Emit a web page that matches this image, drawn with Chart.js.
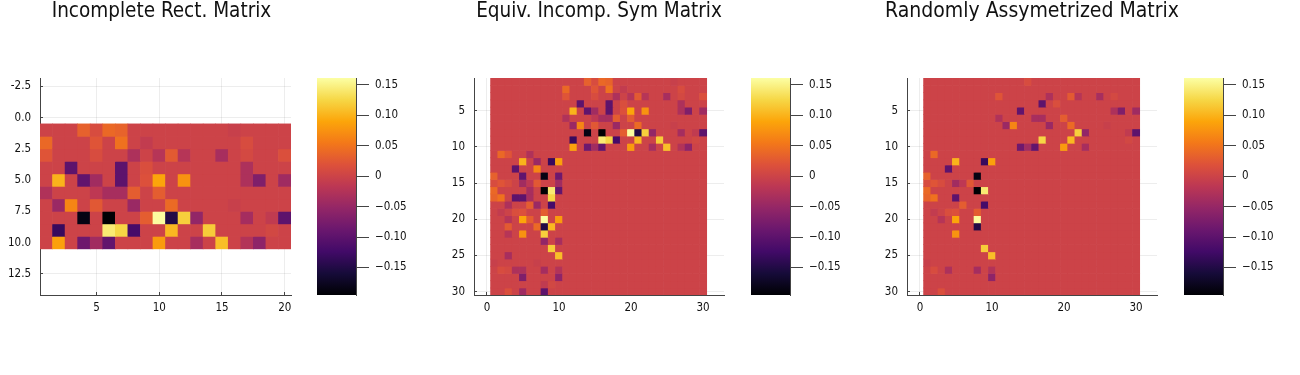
<!DOCTYPE html>
<html>
<head>
<meta charset="utf-8">
<title>Matrix heatmaps</title>
<script src="https://cdn.jsdelivr.net/npm/chart.js@4/dist/chart.umd.js"></script>
<style>
    html, body { margin: 0; padding: 0; background: #fff; }
    body { position: relative; width: 1300px; height: 375px; overflow: hidden; }
    canvas { position: absolute; top: 0; }
</style>
</head>
<body>
<canvas id="rectPlot" width="323" height="375" style="left:0"></canvas>
<canvas id="rectBar" width="100" height="375" style="left:317px"></canvas>
<canvas id="symPlot" width="318" height="375" style="left:440px"></canvas>
<canvas id="symBar" width="100" height="375" style="left:751px"></canvas>
<canvas id="asymPlot" width="318" height="375" style="left:873px"></canvas>
<canvas id="asymBar" width="100" height="375" style="left:1184px"></canvas>
<script>
// the 10x20 matrix
const rectValues = [
    [0, 0, 0, .033, .012, .04, .035, 0, 0, 0, 0, 0, 0, 0, 0, -.005, 0, 0, 0, 0],
    [.04, 0, 0, 0, .022, 0, .048, 0, -.01, 0, 0, 0, 0, 0, 0, 0, .012, 0, 0, 0],
    [.022, 0, 0, 0, .012, 0, 0, -.03, 0, -.022, .027, -.022, 0, 0, -.035, 0, .008, 0, 0, .016],
    [0, 0, -.1, 0, 0, 0, -.1, 0, .015, 0, 0, 0, 0, 0, 0, 0, -.03, 0, 0, 0],
    [0, .1, 0, -.096, -.04, 0, -.1, 0, .018, .09, 0, .076, 0, 0, 0, 0, -.03, -.07, 0, -.042],
    [-.027, 0, 0, 0, -.015, -.035, -.035, .03, 0, .03, 0, 0, 0, 0, 0, 0, 0, 0, 0, 0],
    [0, -.046, .065, 0, .025, 0, 0, -.046, 0, 0, .042, 0, 0, 0, 0, -.005, 0, 0, 0, 0],
    [0, 0, 0, -.185, 0, -.196, 0, 0, .03, .16, -.15, .12, -.053, 0, 0, 0, -.037, 0, -.012, -.1],
    [0, -.132, 0, 0, 0, .143, .125, -.12, 0, 0, .104, 0, 0, .118, 0, 0, 0, 0, .006, 0],
    [0, .086, 0, -.085, -.04, -.095, 0, 0, 0, .082, 0, 0, -.035, 0, .108, 0, -.025, -.057, 0, 0]
];

// [row, col] of rectValues that survive in each block of the third panel
const asymUpperKept = [
    [1, 5], [3, 1], [3, 8], [3, 11], [3, 12], [3, 15], [3, 17], [4, 7], [4, 9],
    [5, 4], [5, 17], [5, 18], [5, 20], [6, 1], [6, 6], [6, 7], [6, 10],
    [7, 2], [7, 3], [7, 8], [7, 11], [7, 16], [8, 12], [8, 13], [8, 19], [8, 20],
    [9, 7], [9, 11], [9, 19], [10, 4], [10, 5], [10, 6], [10, 10], [10, 13]
];
const asymLowerKept = [
    [2, 1], [5, 2], [9, 2], [10, 2], [4, 3], [1, 4], [8, 4], [1, 5], [2, 5], [3, 5],
    [5, 5], [6, 5], [7, 5], [1, 6], [8, 6], [9, 6], [1, 7], [2, 7], [5, 7], [6, 8],
    [9, 8], [2, 9], [3, 9], [4, 9], [5, 9], [8, 9], [3, 10], [5, 10], [8, 10], [8, 11],
    [5, 12], [9, 14], [10, 15], [1, 16], [2, 17], [4, 17], [8, 17], [10, 17], [10, 18], [3, 20]
];

const rectXTicks = [5, 10, 15, 20];
const rectYTicks = [-2.5, 0, 2.5, 5, 7.5, 10, 12.5];
const squareXTicks = [0, 10, 20, 30];
const squareYTicks = [5, 10, 15, 20, 25, 30];
const colorTicks = [0.15, 0.10, 0.05, 0, -0.05, -0.10, -0.15];
const colorTickLabels = ['0.15', '0.10', '0.05', '0', '\u22120.05', '\u22120.10', '\u22120.15'];

const colorMin = -0.1952;
const colorMax = 0.1615;
const inferno = ['#000004', '#160b39', '#420a68', '#6a176e', '#932667', '#bc3754', '#dd513a', '#f37819', '#fca50a', '#f6d746', '#fcffa4'];

const fontFamily = '"DejaVu Sans Condensed", "DejaVu Sans", sans-serif';
const textColor = '#111';
const spineColor = '#444';
const gridColor = 'rgba(0, 0, 0, 0.07)';

function hexToRgb(hex) {
    return [1, 3, 5].map(i => parseInt(hex.slice(i, i + 2), 16));
}

function colorFor(value) {
    const t = Math.min(1, Math.max(0, (value - colorMin) / (colorMax - colorMin))) * (inferno.length - 1);
    const i = Math.min(Math.floor(t), inferno.length - 2);
    const a = hexToRgb(inferno[i]);
    const b = hexToRgb(inferno[i + 1]);
    const mix = a.map((c, k) => Math.round(c + (b[k] - c) * (t - i)));
    return `rgb(${mix.join(',')})`;
}

// [[0, A], [A', 0]]
function buildSymmetric() {
    const m = Array.from({ length: 30 }, () => new Array(30).fill(0));
    rectValues.forEach((row, i) => row.forEach((v, j) => {
        m[i][10 + j] = v;
        m[10 + j][i] = v;
    }));
    return m;
}

function buildAsymmetric() {
    const m = Array.from({ length: 30 }, () => new Array(30).fill(0));
    asymUpperKept.forEach(([i, j]) => { m[i - 1][9 + j] = rectValues[i - 1][j - 1]; });
    asymLowerKept.forEach(([i, j]) => { m[9 + j][i - 1] = rectValues[i - 1][j - 1]; });
    return m;
}

// every matrix row is one dataset of floating bars, one unit tall
function rowsToDatasets(matrix) {
    return matrix.map((row, r) => ({
        data: row.map((v, c) => ({ x: c + 1, y: [r + 0.5, r + 1.5] })),
        backgroundColor: row.map(colorFor),
        borderWidth: 0,
        barPercentage: 1,
        categoryPercentage: 1,
        grouped: false
    }));
}

function fixedTicks(values) {
    return scale => { scale.ticks = values.map(value => ({ value })); };
}

function heatmap(canvasId, cfg) {
    new Chart(document.getElementById(canvasId), {
        type: 'bar',
        data: { datasets: rowsToDatasets(cfg.matrix) },
        options: {
            responsive: false,
            animation: false,
            plugins: {
                legend: { display: false },
                tooltip: { enabled: false },
                title: {
                    display: true,
                    text: cfg.title,
                    color: textColor,
                    font: { family: fontFamily, size: cfg.titleSize, weight: 'normal', lineHeight: 1 },
                    padding: { top: 1, bottom: 77 - cfg.titleSize }
                }
            },
            scales: {
                x: {
                    type: 'linear',
                    offset: false,
                    min: cfg.xRange[0],
                    max: cfg.xRange[1],
                    afterBuildTicks: fixedTicks(cfg.xTicks),
                    afterFit: s => { s.height = 80; s.paddingLeft = 0; s.paddingRight = 0; },
                    border: { color: spineColor },
                    grid: { offset: false, color: gridColor, tickColor: spineColor, tickLength: -3 },
                    ticks: { color: textColor, font: { family: fontFamily, size: 11.5 }, padding: 9, maxRotation: 0, autoSkip: false, callback: v => String(v) }
                },
                y: {
                    type: 'linear',
                    reverse: true,
                    min: cfg.yRange[0],
                    max: cfg.yRange[1],
                    afterBuildTicks: fixedTicks(cfg.yTicks),
                    afterFit: s => { s.width = cfg.axisWidth; },
                    border: { color: spineColor },
                    grid: { color: gridColor, tickColor: spineColor, tickLength: -3 },
                    ticks: { color: textColor, font: { family: fontFamily, size: 11.5 }, padding: 12, autoSkip: false, callback: cfg.yLabel }
                },
                // empty axis on the right: keeps the title centred on the whole canvas
                spacer: {
                    type: 'linear',
                    position: 'right',
                    grid: { display: false },
                    border: { display: false },
                    ticks: { display: false },
                    afterFit: s => { s.width = cfg.spaceRight; }
                }
            }
        }
    });
}

function colorbar(canvasId) {
    new Chart(document.getElementById(canvasId), {
        type: 'bar',
        data: {
            labels: [''],
            datasets: [{
                data: [[colorMin, colorMax]],
                borderWidth: 0,
                barPercentage: 1,
                categoryPercentage: 1,
                backgroundColor: ctx => {
                    const area = ctx.chart.chartArea;
                    if (!area) return inferno[5];
                    const g = ctx.chart.ctx.createLinearGradient(0, area.bottom, 0, area.top);
                    inferno.forEach((c, i) => g.addColorStop(i / (inferno.length - 1), c));
                    return g;
                }
            }]
        },
        options: {
            responsive: false,
            animation: false,
            layout: { padding: { top: 78, bottom: 80, left: 0, right: 0 } },
            plugins: { legend: { display: false }, tooltip: { enabled: false } },
            scales: {
                x: { display: false },
                y: {
                    position: 'right',
                    min: colorMin,
                    max: colorMax,
                    afterBuildTicks: fixedTicks(colorTicks),
                    afterFit: s => { s.width = 61; },
                    border: { color: spineColor },
                    grid: { drawOnChartArea: false, tickColor: spineColor, tickLength: 13 },
                    ticks: {
                        color: textColor,
                        font: { family: fontFamily, size: 11.5 },
                        padding: 6,
                        autoSkip: false,
                        callback: v => colorTickLabels[colorTicks.indexOf(v)]
                    }
                }
            }
        }
    });
}

heatmap('rectPlot', {
    title: 'Incomplete Rect. Matrix',
    titleSize: 20.5,
    matrix: rectValues,
    xRange: [0.5, 20.5],
    yRange: [-3.17, 14.19],
    xTicks: rectXTicks,
    yTicks: rectYTicks,
    yLabel: v => v.toFixed(1),
    axisWidth: 40,
    spaceRight: 32
});
heatmap('symPlot', {
    title: 'Equiv. Incomp. Sym Matrix',
    titleSize: 20.5,
    matrix: buildSymmetric(),
    xRange: [-1.8, 32.9],
    yRange: [0.47, 30.47],
    xTicks: squareXTicks,
    yTicks: squareYTicks,
    yLabel: v => String(v),
    axisWidth: 34,
    spaceRight: 34
});
heatmap('asymPlot', {
    title: 'Randomly Assymetrized Matrix',
    titleSize: 21,
    matrix: buildAsymmetric(),
    xRange: [-1.8, 32.9],
    yRange: [0.47, 30.47],
    xTicks: squareXTicks,
    yTicks: squareYTicks,
    yLabel: v => String(v),
    axisWidth: 34,
    spaceRight: 34
});
colorbar('rectBar');
colorbar('symBar');
colorbar('asymBar');
</script>
</body>
</html>
